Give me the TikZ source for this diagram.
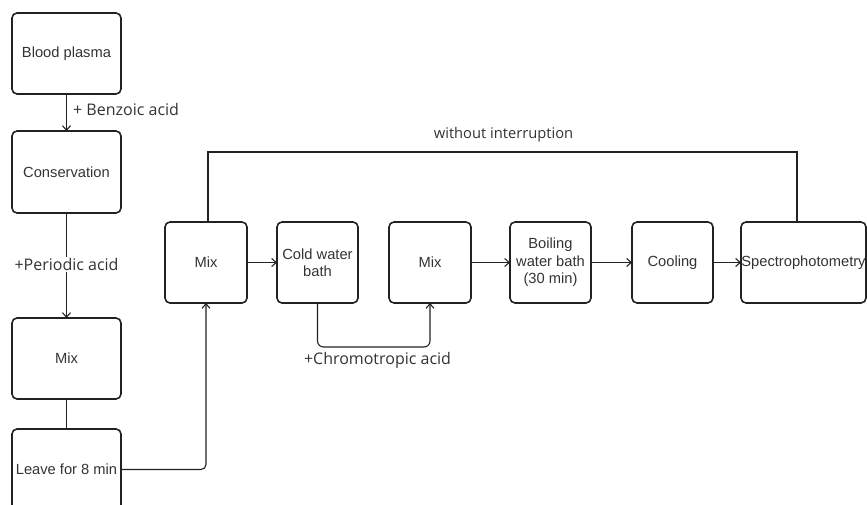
\documentclass[tikz,border=0pt]{standalone}
\usepackage{fontspec}
\setmainfont{Liberation Sans}
\newfontfamily\labfont{Open Sans}
\usetikzlibrary{arrows.meta}
\definecolor{ink}{HTML}{222222}
\definecolor{txt}{HTML}{333333}
\tikzset{
  box/.style={draw=ink, line width=1.6pt, rounded corners=5pt, inner sep=0pt, outer sep=0pt,
    text=txt, align=center, font=\fontsize{14.7}{17.5}\selectfont},
  conn/.style={draw=ink, line width=1.1pt, -{Straight Barb[length=4.5pt,width=8pt]}},
  plain/.style={draw=ink, line width=1.1pt},
  thickline/.style={draw=ink, line width=1.6pt},
  lab/.style={text=txt, inner sep=1pt, font=\labfont\fontsize{16}{19}\selectfont},
}
\begin{document}
\begin{tikzpicture}[x=1pt,y=-1pt]
\useasboundingbox (0,0) rectangle (867,504);
\clip (0,0) rectangle (867,504);
% left column
\node[box, minimum width=109, minimum height=81] (bp) at (66.5,53.5) {Blood plasma};
\node[box, minimum width=109, minimum height=82] (cons) at (66.5,172) {Conservation};
\node[box, minimum width=109, minimum height=81] (mixl) at (66.5,358.5) {Mix};
\node[box, minimum width=109, minimum height=81] (leave) at (66.5,469.5) {Leave for 8 min};
% row
\node[box, minimum width=82, minimum height=81] (mix1) at (206,262.5) {Mix};
\node[box, minimum width=81, minimum height=81] (cold) at (317.5,262.5) {Cold water\\bath};
\node[box, minimum width=82, minimum height=81] (mix2) at (430,262.5) {Mix};
\node[box, minimum width=81, minimum height=81] (boil) at (550.5,262.5) {Boiling\\water bath\\(30 min)};
\node[box, minimum width=81, minimum height=81] (cool) at (672.5,262.5) {Cooling};
\node[box, minimum width=125, minimum height=81] (spec) at (803.5,262.5) {Spectrophotometry};
% left column connectors
\draw[conn] (bp.south) -- (cons.north);
\node[lab, anchor=west] (lbenz) at (72,109) {+ Benzoic acid};
\draw[conn] (cons.south) -- (mixl.north);
\node[lab, fill=white] (lper) at (66.5,264.5) {+Periodic acid};
\draw[plain] (mixl.south) -- (leave.north);
\draw[conn, rounded corners=5pt] (leave.east) -| (mix1.south);
% row connectors
\draw[conn] (mix1.east) -- (cold.west);
\draw[conn, rounded corners=6pt] (cold.south) |- (375,347) -| (mix2.south);
\node[lab] (lchrom) at (377.5,360) {+Chromotropic acid};
\draw[conn] (mix2.east) -- (boil.west);
\draw[conn] (boil.east) -- (cool.west);
\draw[conn] (cool.east) -- (spec.west);
% top bypass line
\coordinate (t1) at (208,152);
\coordinate (t2) at (797,152);
\draw[thickline] (mix1.north -| t1) -- (t1) -- (t2) -- (spec.north -| t2);
\node[lab, font=\labfont\fontsize{14.7}{17}\selectfont] (lwo) at (503.5,134.5) {without interruption};
\end{tikzpicture}
\end{document}
